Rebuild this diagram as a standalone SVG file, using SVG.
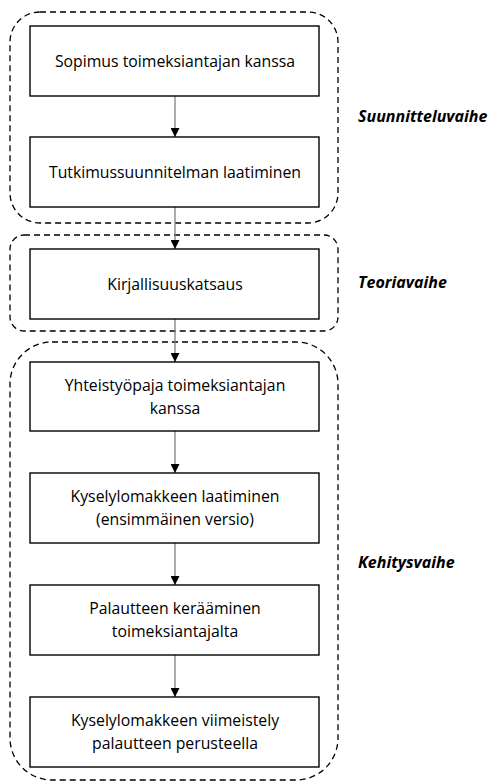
<svg xmlns="http://www.w3.org/2000/svg" width="490" height="781" viewBox="0 0 490 781">
<style>
.box{fill:#fff;stroke:#000;stroke-width:1.4}
.grp{fill:none;stroke:#000;stroke-width:1.3;stroke-dasharray:6 4}
.t{font-family:"Open Sans","Liberation Sans",sans-serif;font-size:15.8px;fill:#000;text-anchor:middle}
.lbl{font-family:"Open Sans","Liberation Sans",sans-serif;font-size:16px;font-weight:bold;font-style:italic;fill:#000}
.c{stroke:#808080;stroke-width:1.3;fill:none}
</style>
<defs>
<marker id="ah" markerWidth="9" markerHeight="9" refX="9" refY="4.5" orient="auto" markerUnits="userSpaceOnUse">
<path d="M0,0 L9,4.5 L0,9 Z" fill="#000"/>
</marker>
</defs>
<rect width="490" height="781" fill="#fff"/>
<g id="phases">
<rect class="grp" x="10" y="12" width="328" height="211" rx="30" ry="30"/>
<rect class="grp" x="10" y="235" width="328" height="96" rx="14" ry="14"/>
<rect class="grp" x="10" y="342" width="328" height="438" rx="42" ry="42"/>
</g>
<g id="connectors">
<line class="c" x1="175" y1="96" x2="175" y2="137" marker-end="url(#ah)"/>
<line class="c" x1="175" y1="207" x2="175" y2="249" marker-end="url(#ah)"/>
<line class="c" x1="175" y1="319" x2="175" y2="362" marker-end="url(#ah)"/>
<line class="c" x1="175" y1="431" x2="175" y2="473" marker-end="url(#ah)"/>
<line class="c" x1="175" y1="543" x2="175" y2="585" marker-end="url(#ah)"/>
<line class="c" x1="175" y1="655" x2="175" y2="697" marker-end="url(#ah)"/>
</g>
<g id="n1"><rect class="box" x="30" y="26" width="289" height="70"/><text class="t" x="175" y="67">Sopimus toimeksiantajan kanssa</text></g>
<g id="n2"><rect class="box" x="30" y="137" width="289" height="70"/><text class="t" x="175" y="178">Tutkimussuunnitelman laatiminen</text></g>
<g id="n3"><rect class="box" x="30" y="249" width="289" height="70"/><text class="t" x="175" y="290">Kirjallisuuskatsaus</text></g>
<g id="n4"><rect class="box" x="30" y="362" width="289" height="69"/><text class="t" x="175" y="391">Yhteistyöpaja toimeksiantajan</text><text class="t" x="175" y="414">kanssa</text></g>
<g id="n5"><rect class="box" x="30" y="473" width="289" height="70"/><text class="t" x="175" y="502">Kyselylomakkeen laatiminen</text><text class="t" x="175" y="525">(ensimmäinen versio)</text></g>
<g id="n6"><rect class="box" x="30" y="585" width="289" height="70"/><text class="t" x="175" y="614">Palautteen kerääminen</text><text class="t" x="175" y="637">toimeksiantajalta</text></g>
<g id="n7"><rect class="box" x="30" y="697" width="289" height="70"/><text class="t" x="175" y="726">Kyselylomakkeen viimeistely</text><text class="t" x="175" y="749">palautteen perusteella</text></g>
<g id="labels">
<text class="lbl" x="358" y="122">Suunnitteluvaihe</text>
<text class="lbl" x="358" y="288">Teoriavaihe</text>
<text class="lbl" x="358" y="568">Kehitysvaihe</text>
</g>
</svg>
